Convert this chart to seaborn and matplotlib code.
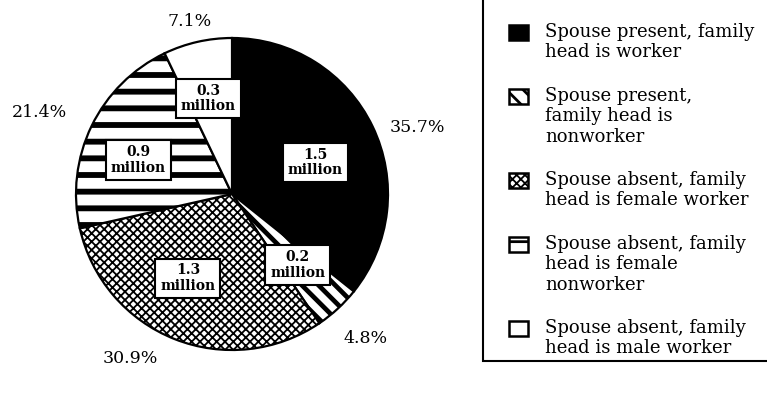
import numpy as np
import matplotlib
matplotlib.use("Agg")
import matplotlib.pyplot as plt
from matplotlib.patches import Rectangle
import seaborn as sns

categories = [
    "Spouse present, family\nhead is worker",
    "Spouse present,\nfamily head is\nnonworker",
    "Spouse absent, family\nhead is female worker",
    "Spouse absent, family\nhead is female\nnonworker",
    "Spouse absent, family\nhead is male worker",
]
shares = [35.7, 4.8, 30.9, 21.4, 7.1]
millions = [1.5, 0.2, 1.3, 0.9, 0.3]

# look of each slice
faces = ["black", "white", "white", "white", "white"]
hatches = [None, "\\\\", "xxxx", "-", None]
hatch_lw = [1.0, 3.4, 1.3, 4.2, 1.0]

# label placement: (radius, angle shift in degrees)
pct_pos = [(1.26, -6), (1.26, 0), (1.24, -10), (1.34, 3), (1.14, 1)]
box_pos = [(0.57, -5), (0.62, 0), (0.61, -6), (0.64, 6), (0.63, 1)]

sns.set_theme(style="white")
plt.rcParams["font.family"] = ["DejaVu Serif"]
plt.rcParams["text.color"] = "black"

W, H = 767, 400
fig = plt.figure(figsize=(W / 100, H / 100), dpi=100)

# pie axes placed so that one data unit = R pixels
R = 156
cx, cy = 232, 206
xl, yl = (-1.45, 1.45), (-1.3, 1.25)
ax = fig.add_axes([(cx + xl[0] * R) / W, (cy + yl[0] * R) / H,
                   (xl[1] - xl[0]) * R / W, (yl[1] - yl[0]) * R / H])

wedges, _ = ax.pie(shares, colors=faces, startangle=90, counterclock=False,
                   hatch=hatches,
                   wedgeprops=dict(edgecolor="black", linewidth=1.6))
for w, lw in zip(wedges, hatch_lw):
    if hasattr(w, "set_hatch_linewidth"):
        w.set_hatch_linewidth(lw)
ax.set_xlim(*xl)
ax.set_ylim(*yl)
ax.set_aspect("auto")
ax.axis("off")

for w, s, m, (pr, pa), (br, ba) in zip(wedges, shares, millions, pct_pos, box_pos):
    mid = (w.theta1 + w.theta2) / 2
    a = np.deg2rad(mid + pa)
    ax.text(pr * np.cos(a), pr * np.sin(a), f"{s:.1f}%", ha="center", va="center",
            fontsize=12.5)
    a = np.deg2rad(mid + ba)
    ax.text(br * np.cos(a), br * np.sin(a), f"{m}\nmillion", ha="center", va="center",
            fontsize=10, fontweight="bold", linespacing=1.15,
            bbox=dict(boxstyle="square,pad=0.35", fc="white", ec="black", lw=1.5))

# legend drawn in pixel space, keys lined up with the first line of each label
lg = fig.add_axes([0, 0, 1, 1])
lg.set_xlim(0, W)
lg.set_ylim(H, 0)
lg.axis("off")
lg.add_patch(Rectangle((483, -5), 400, 366, fill=False, ec="black", lw=1.5))

line_h, gap, y = 20, 24, 23
for w, lw, lab in zip(wedges, hatch_lw, categories):
    key = Rectangle((509, y + 2), 19, 15, fc=w.get_facecolor(), ec="black",
                    lw=1.8, hatch=w.get_hatch())
    if hasattr(key, "set_hatch_linewidth"):
        key.set_hatch_linewidth(min(lw, 2.0))
    lg.add_patch(key)
    lg.text(545, y, lab, ha="left", va="top", fontsize=13, linespacing=1.17)
    y += line_h * (lab.count("\n") + 1) + gap

fig.savefig("out.png", dpi=100)
